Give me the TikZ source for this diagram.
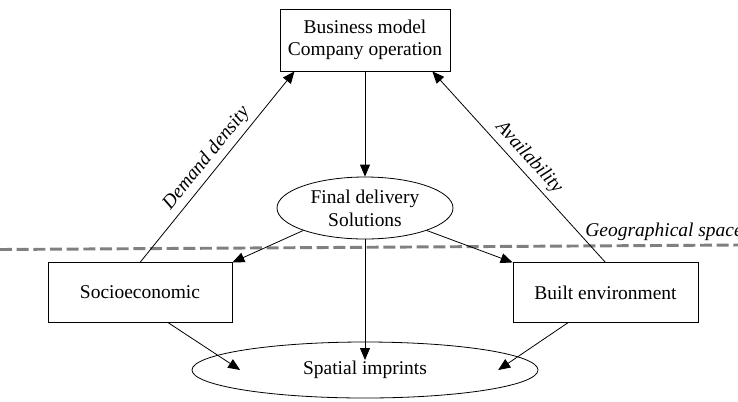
\documentclass[tikz,border=0pt]{standalone}
\usepackage{fontspec}
\setmainfont{Liberation Serif}
\usetikzlibrary{arrows.meta, shapes.geometric, calc}

\begin{document}
\begin{tikzpicture}[x=0.75pt, y=-0.75pt, >={Triangle[length=9pt, width=7.5pt]}, line width=0.6pt,
        every node/.style={font=\fontsize{14.6}{17}\selectfont, align=center},
        box/.style={draw, rectangle, minimum height=44.5pt},
        oval/.style={draw, ellipse, inner sep=0pt},
        lbl/.style={font=\fontsize{14.6}{17}\selectfont\itshape}]
        \useasboundingbox (0,0) rectangle (738,401);

        \node[box, minimum width=127.5pt, minimum height=46.5pt] (model) at (365,40) {Business model\\Company operation};
        \node[oval, minimum width=132pt, minimum height=46.5pt] (delivery) at (365,208) {Final delivery\\Solutions};
        \node[box, minimum width=138pt] (socio) at (140,292.5) {Socioeconomic};
        \node[box, minimum width=138.75pt] (built) at (605.5,292.5) {Built environment};
        \node[oval, minimum width=259.5pt, minimum height=42pt] (imprints) at (365,370) {\raisebox{-3pt}{Spatial imprints}};

        % geographical space divider
        \draw[gray, line width=2.2pt, dash pattern=on 9pt off 3.5pt] (0,249.5) -- (738,245);
        \node[lbl, anchor=west, inner sep=0pt] (geo) at (585,232) {Geographical space};

        \draw[->] (socio.north) -- (model.204.5) node[lbl, midway, sloped, above] {Demand density};
        \draw[->] (built.north) -- (model.335.5) node[lbl, midway, sloped, above] {Availability};
        \draw[->] (model) -- (delivery);
        \draw[->] (delivery.200) -- (socio.north east);
        \draw[->] (delivery.340) -- (built.north west);
        \draw[->] (delivery) -- ([yshift=7.5pt]imprints.center);
        \draw[->] ([xshift=21pt]socio.south) -- ($(imprints.west)!0.14!(imprints.east)$);
        \draw[->] ([xshift=-28pt]built.south) -- ($(imprints.west)!0.884!(imprints.east)$);
    \end{tikzpicture}
\end{document}
